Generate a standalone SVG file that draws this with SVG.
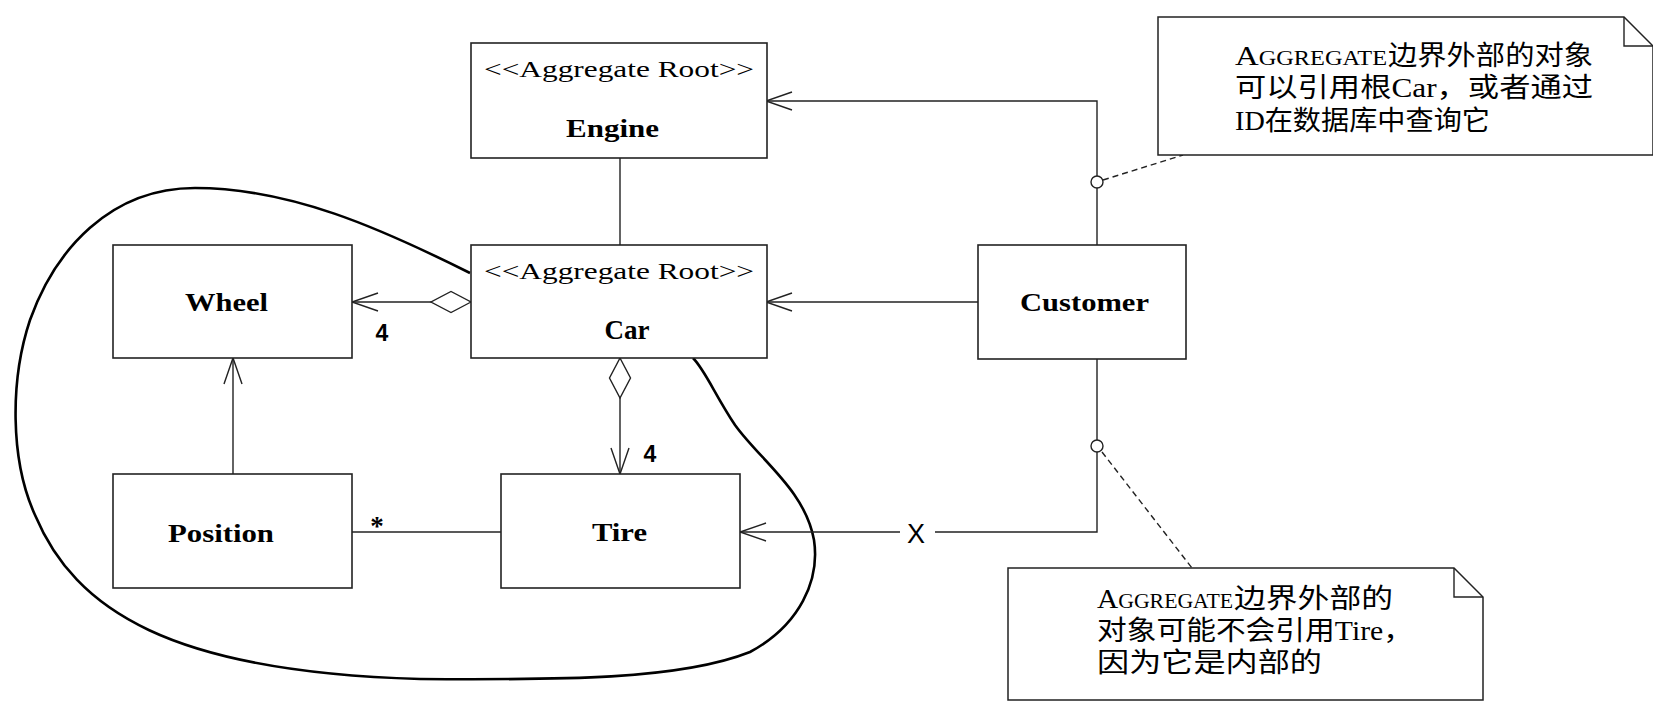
<svg xmlns="http://www.w3.org/2000/svg" width="1653" height="702" viewBox="0 0 1653 702">
<style>
.box{fill:#fff;stroke:#222;stroke-width:1.6}
.note{fill:#fff;stroke:#222;stroke-width:1.5}
.ln{fill:none;stroke:#222;stroke-width:1.4}
.dash{fill:none;stroke:#222;stroke-width:1.4;stroke-dasharray:6 4}
.st{font-family:"Liberation Serif",serif;font-size:24px;fill:#000}
.nm{font-family:"Liberation Serif",serif;font-size:26px;font-weight:bold;fill:#000}
.lbl{font-family:"Liberation Sans",sans-serif;font-size:23px;fill:#000}
.nt{font-family:"Liberation Serif","Noto Sans CJK SC",serif;font-size:27px;fill:#000}
.sc{font-size:20px}
</style>
<defs>
<marker id="arrow" markerUnits="userSpaceOnUse" markerWidth="40" markerHeight="30" viewBox="-30 -15 32 30" refX="0" refY="0" orient="auto" overflow="visible">
<path d="M-26,-9 L0,0 L-26,9" fill="none" stroke="#222" stroke-width="1.4"/>
</marker>
<marker id="diamond" markerUnits="userSpaceOnUse" markerWidth="44" markerHeight="26" viewBox="-2 -13 44 26" refX="0" refY="0" orient="auto" overflow="visible">
<path d="M0,0 L20,-10.5 L40,0 L20,10.5 Z" fill="#fff" stroke="#222" stroke-width="1.4"/>
</marker>
</defs>
<rect width="1653" height="702" fill="#fff"/>

<g id="boundary">
<path d="M470 273 C380 228 290 188 195 188 C110 188 55 250 30 320 C10 380 10 460 35 515 C75 610 170 672 420 679 C560 680 680 680 750 652 C800 625 820 580 814 540 C805 490 760 460 735 425 C715 395 705 370 693 358" fill="none" stroke="#000" stroke-width="2.6"/>
</g>

<g id="connectors">
<path class="ln" d="M620 158 V245"/>
<path class="ln" d="M471 302 H352" marker-start="url(#diamond)" marker-end="url(#arrow)"/>
<path class="ln" d="M620 358 V474" marker-start="url(#diamond)" marker-end="url(#arrow)"/>
<path class="ln" d="M233 474 V358" marker-end="url(#arrow)"/>
<path class="ln" d="M352 532 H501"/>
<path class="ln" d="M978 302 H766" marker-end="url(#arrow)"/>
<path class="ln" d="M1097 245 V101 H766" marker-end="url(#arrow)"/>
<path class="ln" d="M1097 359 V532 H935 M900 532 H740" marker-end="url(#arrow)"/>
<path class="dash" d="M1103 180 L1183 155"/>
<path class="dash" d="M1102 452 L1192 568"/>
<circle cx="1097" cy="182" r="6" fill="#fff" stroke="#222" stroke-width="1.4"/>
<circle cx="1097" cy="446" r="6" fill="#fff" stroke="#222" stroke-width="1.4"/>
<text class="lbl" x="382" y="341" text-anchor="middle" font-weight="bold">4</text>
<text class="lbl" x="650" y="462" text-anchor="middle" font-weight="bold">4</text>
<text class="nm" x="377" y="535" text-anchor="middle" style="font-size:27px">*</text>
<text class="lbl" x="916" y="543" text-anchor="middle" style="font-size:27px">X</text>
</g>

<g id="engine">
<rect class="box" x="471" y="43" width="296" height="115"/>
<text class="st" x="484" y="77" textLength="270" lengthAdjust="spacingAndGlyphs">&lt;&lt;Aggregate Root&gt;&gt;</text>
<text class="nm" x="566" y="137" textLength="93" lengthAdjust="spacingAndGlyphs">Engine</text>
</g>

<g id="car">
<rect class="box" x="471" y="245" width="296" height="113"/>
<text class="st" x="484" y="279" textLength="270" lengthAdjust="spacingAndGlyphs">&lt;&lt;Aggregate Root&gt;&gt;</text>
<text class="nm" x="627" y="339" text-anchor="middle" style="font-size:27px">Car</text>
</g>

<g id="wheel">
<rect class="box" x="113" y="245" width="239" height="113"/>
<text class="nm" x="185" y="311" textLength="83" lengthAdjust="spacingAndGlyphs">Wheel</text>
</g>

<g id="position">
<rect class="box" x="113" y="474" width="239" height="114"/>
<text class="nm" x="168" y="542" textLength="106" lengthAdjust="spacingAndGlyphs">Position</text>
</g>

<g id="tire">
<rect class="box" x="501" y="474" width="239" height="114"/>
<text class="nm" x="592" y="541" textLength="55" lengthAdjust="spacingAndGlyphs">Tire</text>
</g>

<g id="customer">
<rect class="box" x="978" y="245" width="208" height="114"/>
<text class="nm" x="1020" y="311" textLength="129" lengthAdjust="spacingAndGlyphs">Customer</text>
</g>

<g id="note1">
<path class="note" d="M1158 17 H1624 L1653 46 V155 H1158 Z"/>
<path class="ln" d="M1624 17 V46 H1653"/>
<text class="nt" x="1235" y="65" textLength="152" lengthAdjust="spacingAndGlyphs">A<tspan class="sc">GGREGATE</tspan></text>
<text class="nt" x="1388" y="65" textLength="205" lengthAdjust="spacingAndGlyphs">边界外部的对象</text>
<text class="nt" x="1235" y="97" textLength="358" lengthAdjust="spacingAndGlyphs">可以引用根Car，或者通过</text>
<text class="nt" x="1235" y="130" textLength="255" lengthAdjust="spacingAndGlyphs">ID在数据库中查询它</text>
</g>

<g id="note2">
<path class="note" d="M1008 568 H1454 L1483 597 V700 H1008 Z"/>
<path class="ln" d="M1454 568 V597 H1483"/>
<text class="nt" x="1097" y="608" textLength="136" lengthAdjust="spacingAndGlyphs">A<tspan class="sc">GGREGATE</tspan></text>
<text class="nt" x="1234" y="608" textLength="159" lengthAdjust="spacingAndGlyphs">边界外部的</text>
<text class="nt" x="1097" y="640" textLength="316" lengthAdjust="spacingAndGlyphs">对象可能不会引用Tire，</text>
<text class="nt" x="1097" y="672" textLength="225" lengthAdjust="spacingAndGlyphs">因为它是内部的</text>
</g>
</svg>
